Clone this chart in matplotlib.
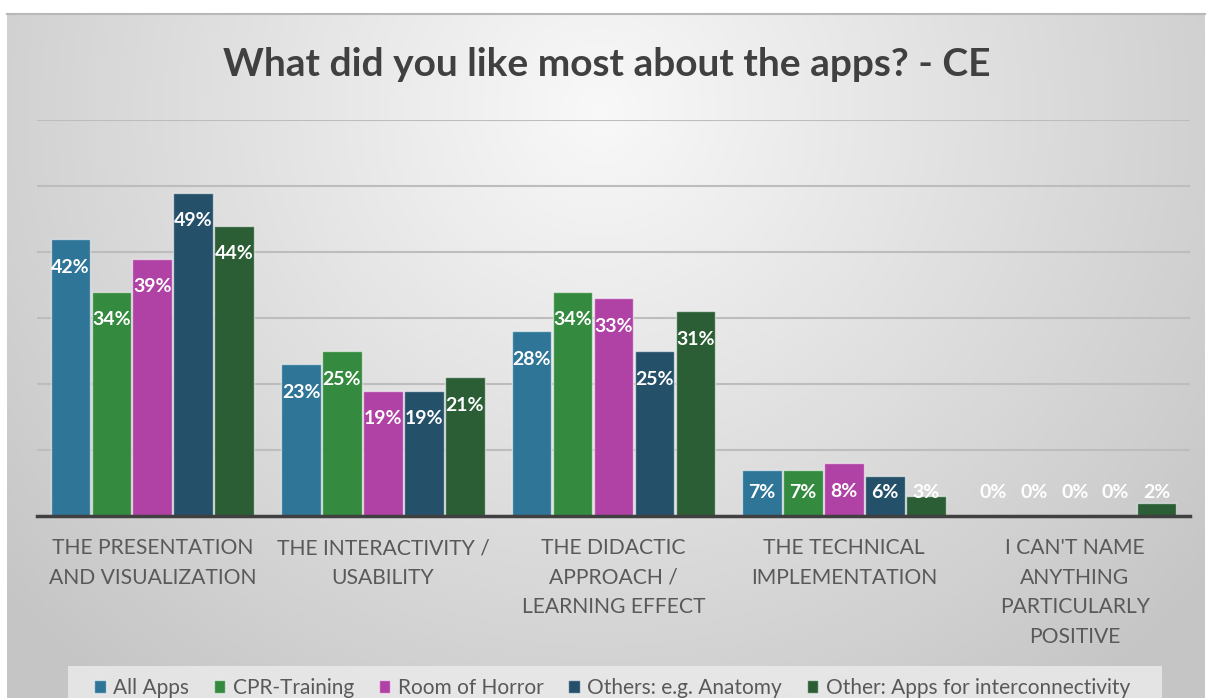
import numpy as np
import matplotlib.pyplot as plt
from matplotlib.patches import Rectangle

W, H = 1212, 698

categories = [
    "THE PRESENTATION\nAND VISUALIZATION",
    "THE INTERACTIVITY /\nUSABILITY",
    "THE DIDACTIC\nAPPROACH /\nLEARNING EFFECT",
    "THE TECHNICAL\nIMPLEMENTATION",
    "I CAN'T NAME\nANYTHING\nPARTICULARLY\nPOSITIVE",
]
series_names = ["All Apps", "CPR-Training", "Room of Horror",
                "Others: e.g. Anatomy", "Other: Apps for interconnectivity"]
all_apps = [42, 23, 28, 7, 0]
cpr_training = [34, 25, 34, 7, 0]
room_of_horror = [39, 19, 33, 8, 0]
anatomy = [49, 19, 25, 6, 0]
interconnectivity = [44, 21, 31, 3, 2]
colors = ["#2e7597", "#348a3e", "#b041a5", "#25506a", "#2b5e35"]

plt.rcParams["font.family"] = ["Lato", "DejaVu Sans"]

fig = plt.figure(figsize=(W / 100, H / 100), dpi=100)
fig.patch.set_facecolor("white")

# gradient background of the chart area
bg = fig.add_axes([7 / W, 0, (1205 - 7) / W, (H - 14) / H])
xs = np.linspace(7, 1205, 300)
ys = np.linspace(14, H, 200)
X, Y = np.meshgrid(xs, ys)
d = np.sqrt(((X - 600) / 680) ** 2 + ((Y - 110) / 650) ** 2)
v = 0.975 - 0.2 * np.clip(d, 0, 1.15) / 1.15
bg.imshow(np.dstack([v, v, v]), aspect="auto", extent=[0, 1, 0, 1])
bg.axis("off")
fig.add_artist(plt.Line2D([7 / W, 1205 / W], [1 - 14 / H, 1 - 14 / H],
                          color="#b8b8b8", lw=1.5))

ax = fig.add_axes([37 / W, 1 - 516 / H, (1190 - 37) / W, (516 - 120) / H])
ax.set_facecolor("none")

data = [all_apps, cpr_training, room_of_horror, anatomy, interconnectivity]
x = np.arange(len(categories))
step = 0.1775
width = 0.172
for i, (vals, name, c) in enumerate(zip(data, series_names, colors)):
    pos = x + (i - 2) * step
    ax.bar(pos, vals, width, color=c, edgecolor=(1, 1, 1, 0.55), lw=1,
           label=name, zorder=3)
    for p, val in zip(pos, vals):
        ax.text(p, max(val - 4.3, 3.6), f"{val}%", ha="center", va="center",
                color="white", fontsize=14, fontweight="bold", zorder=4)

ax.set_xlim(-0.5, len(categories) - 0.5)
ax.set_ylim(0, 60)
ax.set_yticks(np.arange(10, 61, 10))
ax.yaxis.grid(True, color="#bdbdbd", lw=1.5, zorder=0)
ax.tick_params(axis="y", length=0, labelleft=False)
ax.set_xticks(x)
ax.set_xticklabels(categories, fontsize=15.2, color="#595959", linespacing=1.6)
ax.tick_params(axis="x", length=0, pad=16)
for s in ["top", "right", "left"]:
    ax.spines[s].set_visible(False)
ax.spines["bottom"].set_color("#404040")
ax.spines["bottom"].set_linewidth(2.5)
ax.spines["bottom"].set_zorder(5)

fig.text(607 / W, 1 - 64 / H, "What did you like most about the apps? - CE",
         ha="center", va="center", fontsize=28, fontweight="bold", color="#404040")

fig.add_artist(Rectangle((68 / W, 0), (1162 - 68) / W, 32 / H,
                         transform=fig.transFigure, facecolor="#ececec",
                         edgecolor="none", alpha=0.8))
leg = fig.legend(loc="center", bbox_to_anchor=(612 / W, 1 - 688 / H), ncol=5,
                 frameon=False, fontsize=15, handlelength=0.55, handleheight=0.55,
                 handletextpad=0.35, columnspacing=1.2, labelcolor="#595959")

fig.savefig("out.png", dpi=100)
